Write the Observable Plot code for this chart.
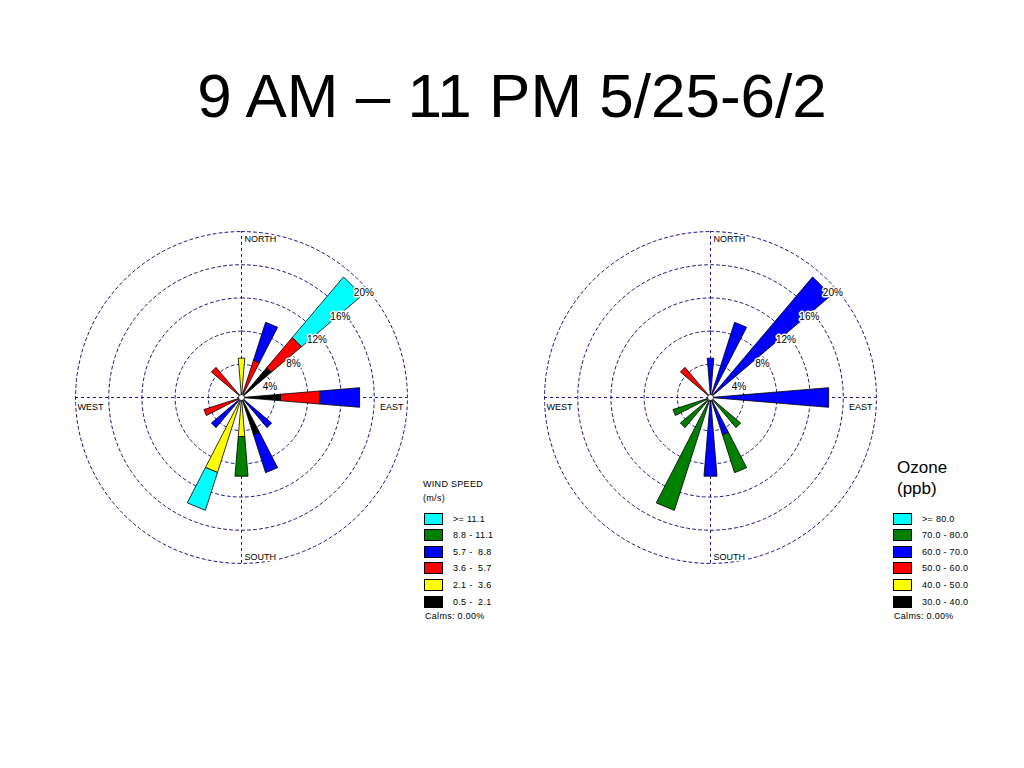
<!DOCTYPE html>
<html>
<head>
<meta charset="utf-8">
<script src="https://cdn.jsdelivr.net/npm/d3@7"></script>
<script src="https://cdn.jsdelivr.net/npm/@observablehq/plot@0.6"></script>
<style>
  body { margin: 0; background: #fff; font-family: "Liberation Sans", Arial, sans-serif; }
  #page { position: relative; width: 1024px; height: 768px; overflow: hidden; background: #fff; }
  .abs { position: absolute; white-space: pre; color: #000; }
  #title { left: 0; width: 1024px; top: 65px; text-align: center; font-size: 62px; line-height: 62px; }
  .rose { position: absolute; top: 207px; }
  .sw { position: absolute; width: 17px; height: 10px; border: 1px solid #000; }
  .small { font-size: 9px; line-height: 12px; letter-spacing: 0.3px; }
</style>
</head>
<body>
<div id="page">
  <div id="title" class="abs"></div>
  <div id="roseL" class="rose" style="left:51px"></div>
  <div id="roseR" class="rose" style="left:520px"></div>
</div>
<script>
// ---------------- data ----------------
const titleText = "9 AM \u2013 11 PM 5/25-6/2";
const directions = ["N","NNE","NE","ENE","E","ESE","SE","SSE","S","SSW","SW","WSW","W","WNW","NW","NNW"];
// class colours, inner (lowest) class first
const classColors = ["#000000", "#ffff00", "#ff0000", "#0000ff", "#008000", "#00ffff"];
const windClassLabels = ["0.5 -  2.1", "2.1 -  3.6", "3.6 -  5.7", "5.7 -  8.8", "8.8 - 11.1", ">= 11.1"];
const ozoneClassLabels = ["30.0 - 40.0", "40.0 - 50.0", "50.0 - 60.0", "60.0 - 70.0", "70.0 - 80.0", ">= 80.0"];

// frequency (%) per direction N..NNW, one array per wind-speed class
const wind05to21  = [0, 0, 4.76, 0, 4.76, 0, 0, 4.76, 0, 0, 0, 0, 0, 0, 0, 0];
const wind21to36  = [4.76, 0, 0, 0, 0, 0, 0, 0, 4.76, 9.52, 0, 0, 0, 0, 0, 0];
const wind36to57  = [0, 4.76, 4.76, 0, 4.76, 0, 0, 0, 0, 0, 0, 4.76, 0, 0, 4.76, 0];
const wind57to88  = [0, 4.76, 0, 0, 4.76, 0, 4.76, 4.76, 0, 0, 4.76, 0, 0, 0, 0, 0];
const wind88to111 = [0, 0, 0, 0, 0, 0, 0, 0, 4.76, 0, 0, 0, 0, 0, 0, 0];
const wind111up   = [0, 0, 9.52, 0, 0, 0, 0, 0, 0, 4.76, 0, 0, 0, 0, 0, 0];

// frequency (%) per direction N..NNW, one array per ozone class
const ozone30to40 = [0, 0, 0, 0, 0, 0, 0, 0, 0, 0, 0, 0, 0, 0, 0, 0];
const ozone40to50 = [0, 0, 0, 0, 0, 0, 0, 0, 0, 0, 0, 0, 0, 0, 0, 0];
const ozone50to60 = [0, 0, 0, 0, 0, 0, 0, 0, 0, 0, 0, 0, 0, 0, 4.76, 0];
const ozone60to70 = [4.76, 9.52, 19.05, 0, 14.29, 0, 0, 4.76, 9.52, 0, 0, 0, 0, 0, 0, 0];
const ozone70to80 = [0, 0, 0, 0, 0, 0, 4.76, 4.76, 0, 14.29, 4.76, 4.76, 0, 0, 0, 0];
const ozone80up   = [0, 0, 0, 0, 0, 0, 0, 0, 0, 0, 0, 0, 0, 0, 0, 0];

const ringPercents = [4, 8, 12, 16, 20];
const compassLabels = ["NORTH", "EAST", "SOUTH", "WEST"];
const windLegendTitle = ["WIND SPEED", "(m/s)"];
const ozoneLegendTitle = ["Ozone", "(ppb)"];
const calmsText = "Calms: 0.00%";

const windByClass = [wind05to21, wind21to36, wind36to57, wind57to88, wind88to111, wind111up];
const ozoneByClass = [ozone30to40, ozone40to50, ozone50to60, ozone60to70, ozone70to80, ozone80up];

// ---------------- drawing ----------------
document.getElementById("title").textContent = titleText;

const HALF = 4.75 * Math.PI / 180;
const pol = (r, a) => ({x: r * Math.sin(a), y: r * Math.cos(a)});
const navy = "#1a1a86";

function rose(byClass) {
  const segs = [];
  directions.forEach((d, i) => {
    const a = i * Math.PI / 8;
    let r0 = 0;
    byClass.forEach((vals, k) => {
      const v = vals[i];
      if (!v) return;
      const r1 = r0 + v;
      const id = d + "-" + k;
      [pol(r0, a - HALF), pol(r1, a - HALF), pol(r1, a + HALF), pol(r0, a + HALF)]
        .forEach(p => segs.push({...p, id, fill: classColors[k]}));
      r0 = r1;
    });
  });
  const ringPts = [];
  ringPercents.forEach(r => {
    for (let deg = 0; deg < 360; deg += 2) ringPts.push({...pol(r, deg * Math.PI / 180), r});
  });
  const rMax = d3.max(ringPercents);
  const font = "Liberation Sans, Arial, sans-serif";
  const compass = compassLabels.map((t, i) => ({t, ...pol(rMax, i * Math.PI / 2)}));
  return Plot.plot({
    width: 380, height: 380, margin: 0,
    x: {domain: [-22.9, 22.9], axis: null},
    y: {domain: [-22.9, 22.9], axis: null},
    color: {type: "identity"},
    style: {background: "none", overflow: "visible"},
    marks: [
      Plot.line(ringPts, {x: "x", y: "y", z: "r", curve: "linear-closed", stroke: navy, strokeWidth: 1, strokeDasharray: "3,3"}),
      Plot.ruleX([0], {y1: -rMax, y2: rMax, stroke: navy, strokeWidth: 1, strokeDasharray: "3,3"}),
      Plot.ruleY([0], {x1: -rMax, x2: rMax, stroke: navy, strokeWidth: 1, strokeDasharray: "3,3"}),
      Plot.line(segs, {x: "x", y: "y", z: "id", fill: "fill", curve: "linear-closed", stroke: "black", strokeWidth: 0.8, strokeLinejoin: "miter"}),
      Plot.dot([{x: 0, y: 0}], {x: "x", y: "y", r: 3, fill: "white", stroke: "black", strokeWidth: 0.8}),
      Plot.text(ringPercents, {x: d => d * Math.SQRT1_2, y: d => d * Math.SQRT1_2, text: d => d + "%", dx: 5, dy: 13, fontSize: 10, fontFamily: font, fill: "black", stroke: "white", strokeWidth: 3}),
      Plot.text(compass.filter(d => d.t === "NORTH"), {x: "x", y: "y", text: "t", textAnchor: "start", dx: 3, dy: 8, fontSize: 9, fontFamily: font, fill: "black", stroke: "white", strokeWidth: 3}),
      Plot.text(compass.filter(d => d.t === "SOUTH"), {x: "x", y: "y", text: "t", textAnchor: "start", dx: 3, dy: -6, fontSize: 9, fontFamily: font, fill: "black", stroke: "white", strokeWidth: 3}),
      Plot.text(compass.filter(d => d.t === "EAST"), {x: "x", y: "y", text: "t", textAnchor: "end", dx: -4, dy: 10, fontSize: 9, fontFamily: font, fill: "black", stroke: "white", strokeWidth: 3}),
      Plot.text(compass.filter(d => d.t === "WEST"), {x: "x", y: "y", text: "t", textAnchor: "start", dx: 2, dy: 10, fontSize: 9, fontFamily: font, fill: "black", stroke: "white", strokeWidth: 3})
    ]
  });
}

document.getElementById("roseL").appendChild(rose(windByClass));
document.getElementById("roseR").appendChild(rose(ozoneByClass));

// legends
const page = document.getElementById("page");
function addText(txt, left, centerY, cls, fontSize, lh) {
  const el = document.createElement("div");
  el.className = "abs " + (cls || "");
  el.textContent = txt;
  el.style.left = left + "px";
  if (fontSize) { el.style.fontSize = fontSize + "px"; el.style.lineHeight = lh + "px"; }
  el.style.top = (centerY - (lh || 12) / 2) + "px";
  page.appendChild(el);
}
function legend(x0, labels, titleLines, big) {
  if (big) {
    addText(titleLines[0], x0 + 4, 468, "", 17, 20);
    addText(titleLines[1], x0 + 4, 489, "", 17, 20);
  } else {
    addText(titleLines[0], x0 - 1, 484, "small");
    addText(titleLines[1], x0 - 1, 498, "small");
  }
  const order = d3.range(classColors.length).reverse();
  order.forEach((k, row) => {
    const top = 512.5 + row * 16.6;
    const sw = document.createElement("div");
    sw.className = "sw";
    sw.style.left = x0 + "px";
    sw.style.top = top + "px";
    sw.style.background = classColors[k];
    page.appendChild(sw);
    addText(labels[k], x0 + 29, top + 6, "small");
  });
  addText(calmsText, x0 + 1, 616, "small");
}
legend(424, windClassLabels, windLegendTitle, false);
legend(893, ozoneClassLabels, ozoneLegendTitle, true);
</script>
</body>
</html>
